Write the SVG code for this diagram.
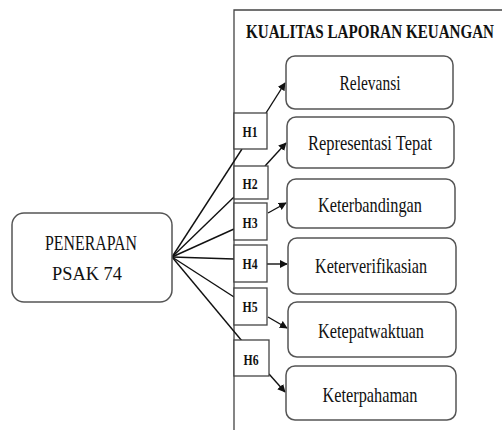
<svg xmlns="http://www.w3.org/2000/svg" width="502" height="430" viewBox="0 0 502 430">
<defs>
<marker id="ah" viewBox="0 0 10 10" refX="9" refY="5" markerWidth="8" markerHeight="8" markerUnits="userSpaceOnUse" orient="auto"><path d="M0,0 L10,5 L0,10 z" fill="#111"/></marker>
<style>
.box{fill:#fff;stroke:#555;stroke-width:1.5}
.hb{fill:#fff;stroke:#444;stroke-width:1.3}
.c{stroke:#111;stroke-width:1.4;fill:none}
.a{stroke:#111;stroke-width:1.4;fill:none;marker-end:url(#ah)}
</style>
</defs>
<rect width="502" height="430" fill="#fff"/>
<g font-family="'Liberation Serif', 'DejaVu Serif', serif" fill="#111" text-anchor="middle">
<g id="frame">
<path d="M234,431 V10 H503" fill="none" stroke="#444" stroke-width="1.3"/>
<text transform="scale(0.8,1)" x="462.5" y="38" font-size="19" font-weight="bold" textLength="310" lengthAdjust="spacingAndGlyphs">KUALITAS LAPORAN KEUANGAN</text>
</g>
<g id="connectors">
<line class="c" x1="172" y1="257" x2="242" y2="149"/>
<line class="c" x1="172" y1="257" x2="234" y2="197"/>
<line class="c" x1="172" y1="257" x2="234" y2="229"/>
<line class="c" x1="172" y1="257" x2="234" y2="259"/>
<line class="c" x1="172" y1="257" x2="234" y2="297"/>
<line class="c" x1="172" y1="257" x2="242" y2="341"/>
<line class="a" x1="266" y1="113" x2="285" y2="83"/>
<line class="a" x1="265" y1="166" x2="286" y2="143"/>
<line class="a" x1="268" y1="213" x2="286" y2="203"/>
<line class="a" x1="267" y1="264" x2="287" y2="264"/>
<line class="a" x1="268" y1="317" x2="287" y2="328"/>
<line class="a" x1="269" y1="374" x2="285" y2="392"/>
</g>
<g id="penerapan">
<rect class="box" x="12" y="213" width="160" height="89" rx="12"/>
<text x="91" y="250" font-size="20" textLength="92" lengthAdjust="spacingAndGlyphs">PENERAPAN</text>
<text x="87" y="280" font-size="19" textLength="70" lengthAdjust="spacingAndGlyphs">PSAK 74</text>
</g>
<g id="relevansi" font-size="21">
<rect class="box" x="286" y="56" width="167" height="53" rx="9"/>
<text x="370" y="90" textLength="61" lengthAdjust="spacingAndGlyphs">Relevansi</text>
</g>
<g id="representasi" font-size="21">
<rect class="box" x="287" y="117" width="167" height="51" rx="9"/>
<text x="370" y="150" textLength="124" lengthAdjust="spacingAndGlyphs">Representasi Tepat</text>
</g>
<g id="keterbandingan" font-size="21">
<rect class="box" x="287" y="179" width="168" height="49" rx="9"/>
<text x="370" y="212" textLength="104" lengthAdjust="spacingAndGlyphs">Keterbandingan</text>
</g>
<g id="keterverifikasian" font-size="21">
<rect class="box" x="288" y="238" width="168" height="56" rx="9"/>
<text x="371" y="273" textLength="112" lengthAdjust="spacingAndGlyphs">Keterverifikasian</text>
</g>
<g id="ketepatwaktuan" font-size="21">
<rect class="box" x="288" y="302" width="168" height="55" rx="9"/>
<text x="371" y="338" textLength="106" lengthAdjust="spacingAndGlyphs">Ketepatwaktuan</text>
</g>
<g id="keterpahaman" font-size="21">
<rect class="box" x="286" y="366" width="170" height="54" rx="9"/>
<text x="370" y="402" textLength="95" lengthAdjust="spacingAndGlyphs">Keterpahaman</text>
</g>
<g font-size="15" font-weight="bold">
<g id="h1"><rect class="hb" x="234" y="113" width="33" height="36"/><text x="250" y="137" textLength="15" lengthAdjust="spacingAndGlyphs">H1</text></g>
<g id="h2"><rect class="hb" x="234" y="166" width="34" height="33"/><text x="250" y="189" textLength="15" lengthAdjust="spacingAndGlyphs">H2</text></g>
<g id="h3"><rect class="hb" x="234" y="203" width="33" height="37"/><text x="250" y="228" textLength="15" lengthAdjust="spacingAndGlyphs">H3</text></g>
<g id="h4"><rect class="hb" x="234" y="245" width="33" height="37"/><text x="250" y="269" textLength="15" lengthAdjust="spacingAndGlyphs">H4</text></g>
<g id="h5"><rect class="hb" x="234" y="288" width="33" height="37"/><text x="250" y="312" textLength="15" lengthAdjust="spacingAndGlyphs">H5</text></g>
<g id="h6"><rect class="hb" x="234" y="340" width="35" height="36"/><text x="251" y="365" textLength="15" lengthAdjust="spacingAndGlyphs">H6</text></g>
</g>
</g>
</svg>
